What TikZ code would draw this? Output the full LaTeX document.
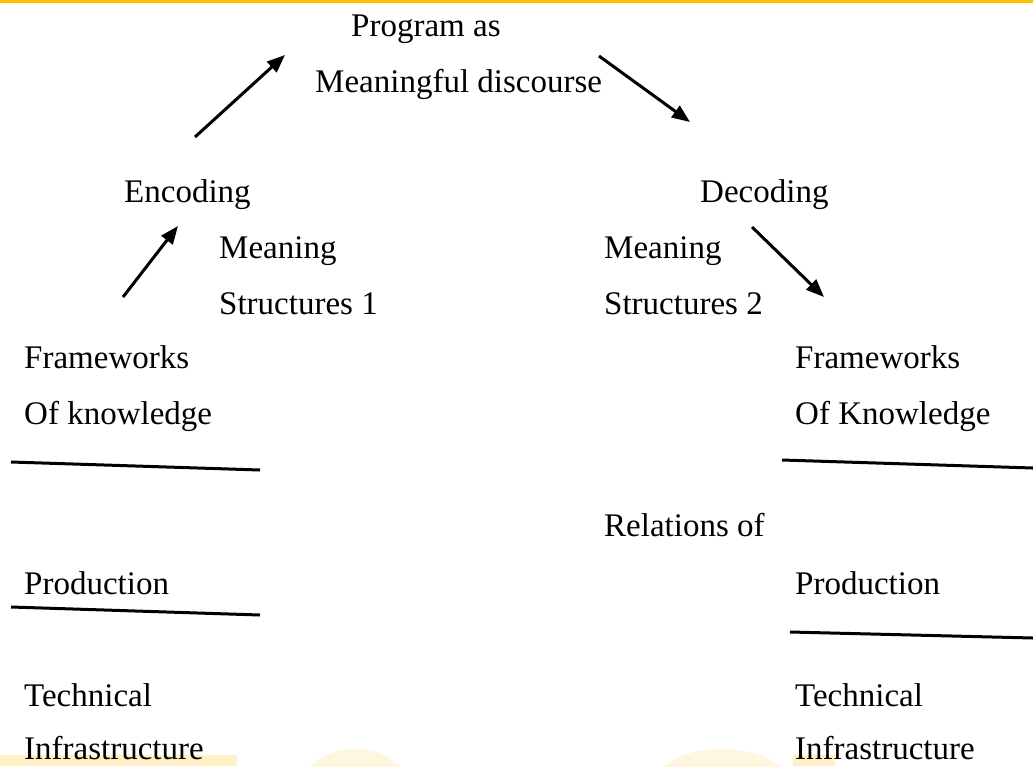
\documentclass[tikz,border=0pt]{standalone}
\usepackage{fontspec}
\setmainfont{Liberation Serif}
\usetikzlibrary{arrows.meta}
\definecolor{topgold}{HTML}{FFC000}
\definecolor{wmlight}{HTML}{FFF6E0}
\definecolor{wmdark}{HTML}{FFF0C6}
\tikzset{
  lbl/.style={anchor=base west, inner sep=0pt, font=\fontsize{33}{40}\selectfont},
  flow/.style={line width=3pt, -{Triangle[length=18pt,width=14pt]}},
  rule/.style={line width=3pt},
}
\begin{document}
\begin{tikzpicture}[x=1pt,y=-1pt]
\useasboundingbox (0,0) rectangle (1033,766);
% watermark
\fill[wmdark] (0,755) rectangle (237,766);
\fill[wmlight] (355,790) ellipse [x radius=55, y radius=41];
\fill[wmlight] (722,790) ellipse [x radius=72, y radius=41];
\fill[wmdark] (793,755) rectangle (835,766);
% top gold rule
\fill[topgold] (0,0) rectangle (1033,3);
% texts
\node[lbl] (prog) at (351,36) {Program as};
\node[lbl] (disc) at (315,92) {Meaningful discourse};
\node[lbl] (enc) at (124,202) {Encoding};
\node[lbl] (dec) at (700,202) {Decoding};
\node[lbl] (m1) at (219,258) {Meaning};
\node[lbl] (s1) at (219,314) {Structures 1};
\node[lbl] (m2) at (604,258) {Meaning};
\node[lbl] (s2) at (604,314) {Structures 2};
\node[lbl] (fw1) at (24,368) {Frameworks};
\node[lbl] (ok1) at (24,424) {Of knowledge};
\node[lbl] (fw2) at (795,368) {Frameworks};
\node[lbl] (ok2) at (795,424) {Of Knowledge};
\node[lbl] (rel) at (604,536) {Relations of};
\node[lbl] (pr1) at (24,594) {Production};
\node[lbl] (pr2) at (795,594) {Production};
\node[lbl] (te1) at (24,706) {Technical};
\node[lbl] (in1) at (24,759) {Infrastructure};
\node[lbl] (te2) at (795,706) {Technical};
\node[lbl] (in2) at (795,759) {Infrastructure};
% arrow end points
\coordinate (a1s) at (123,297); \coordinate (a1e) at (178,226);
\coordinate (a2s) at (195,137); \coordinate (a2e) at (285,55);
\coordinate (a3s) at (599,56);  \coordinate (a3e) at (690,122);
\coordinate (a4s) at (752,227); \coordinate (a4e) at (824,297);
\draw[flow] (a1s) -- (a1e);
\draw[flow] (a2s) -- (a2e);
\draw[flow] (a3s) -- (a3e);
\draw[flow] (a4s) -- (a4e);
% rules
\coordinate (l1s) at (11,462); \coordinate (l1e) at (260,470);
\coordinate (l2s) at (11,607); \coordinate (l2e) at (260,615);
\coordinate (r1s) at (782,460); \coordinate (r1e) at (1033,468);
\coordinate (r2s) at (790,632); \coordinate (r2e) at (1033,638);
\draw[rule] (l1s) -- (l1e);
\draw[rule] (l2s) -- (l2e);
\draw[rule] (r1s) -- (r1e);
\draw[rule] (r2s) -- (r2e);
\end{tikzpicture}
\end{document}
